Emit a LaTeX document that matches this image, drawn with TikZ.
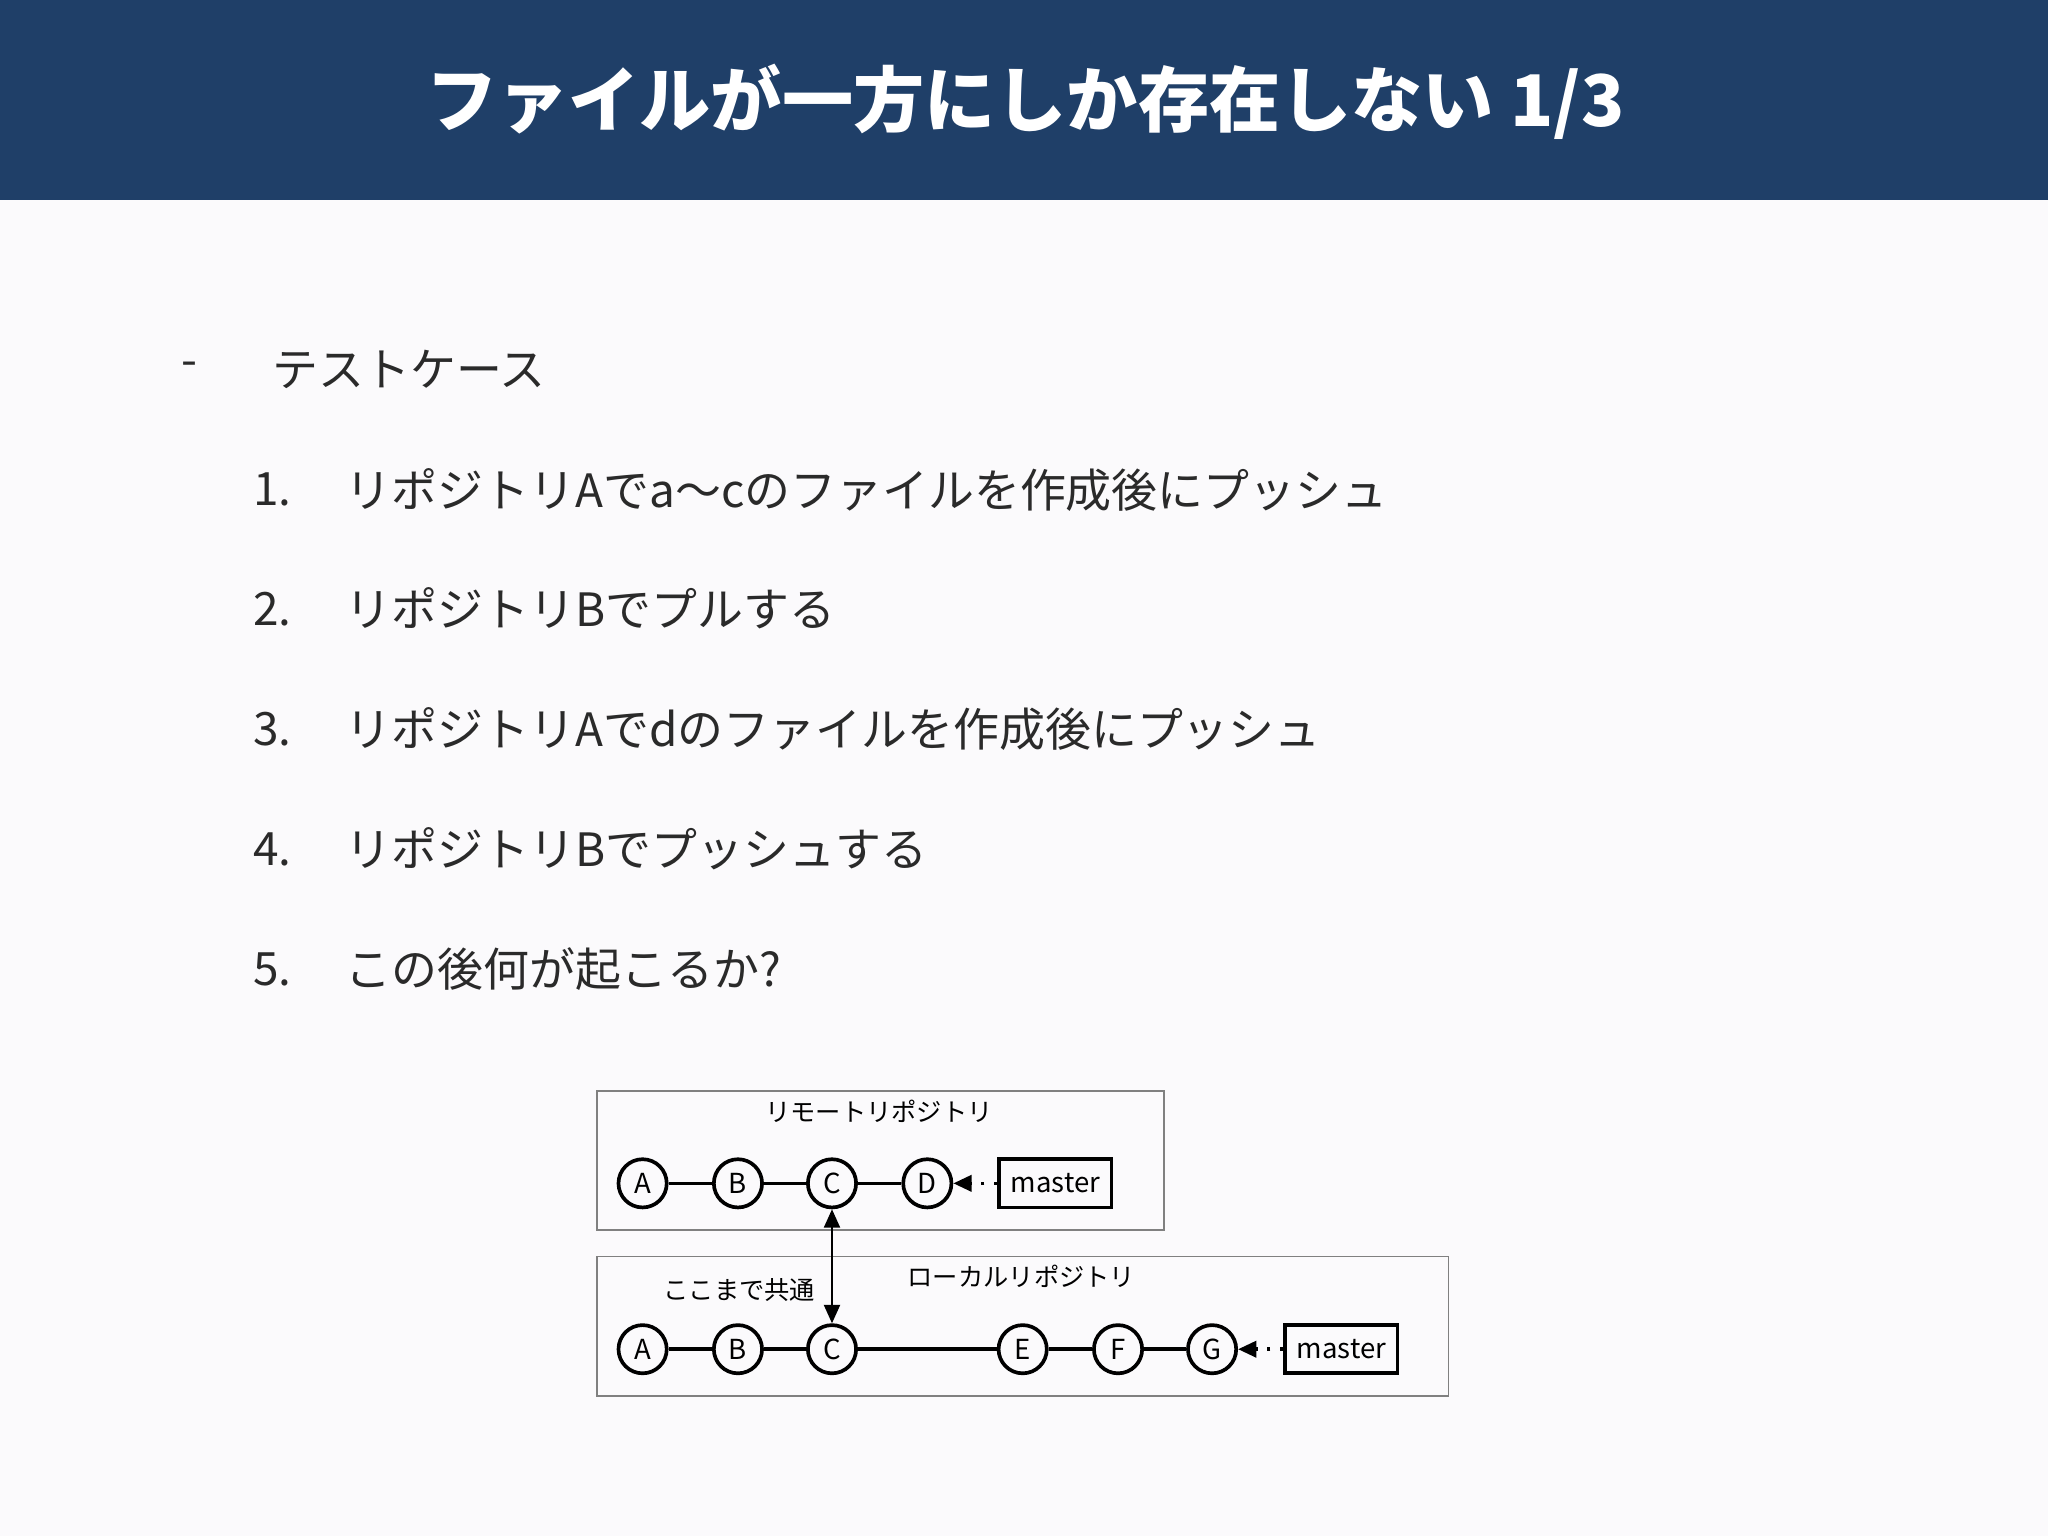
\documentclass[tikz,border=0pt]{standalone}
\usepackage{fontspec}
\setmainfont{Noto Sans CJK JP}
\usetikzlibrary{arrows.meta}
\definecolor{hdr}{HTML}{1F3F68}
\definecolor{bg}{HTML}{FBFAFC}
\definecolor{txt}{HTML}{2A2A2A}
\tikzset{
 commit/.style={circle,draw,thick,minimum size=10.5pt,inner sep=0pt,font=\fontsize{6}{6}\selectfont},
 mbox/.style={draw,thick,minimum width=24.5pt,minimum height=10.5pt,inner sep=0pt,font=\fontsize{6}{6}\selectfont},
 frm/.style={draw=gray,thin},
 item/.style={anchor=west,font=\fontsize{10}{12}\selectfont,text=txt,inner sep=0pt},
 lbl/.style={font=\fontsize{5.5}{6}\selectfont,inner sep=0pt},
 tip/.style={-{Triangle[length=4pt,width=3.5pt]}},
}
\begin{document}
\begin{tikzpicture}[x=0.01cm,y=-0.01cm]
\fill[bg] (0,0) rectangle (1568,1176);
\useasboundingbox (0,0) rectangle (1568,1176);
\fill[hdr] (0,0) rectangle (1568,153);
\node[text=white,font=\fontsize{15.5}{18}\selectfont\bfseries] (title) at (785,78) {ファイルが一方にしか存在しない 1/3};
\node[item] (dash) at (138,283) {-};
\node[item] (h) at (208,283) {テストケース};
\foreach \n/\y/\t in {1/375/リポジトリAでa〜cのファイルを作成後にプッシュ,2/466/リポジトリBでプルする,3/558/リポジトリAでdのファイルを作成後にプッシュ,4/650/リポジトリBでプッシュする,5/742/この後何が起こるか?}{
 \node[item] (n\n) at (193,\y) {\n.};
 \node[item] (t\n) at (264,\y) {\t};
}
% remote
\draw[frm] (457,835) rectangle (891,942);
\node[lbl] (rl) at (673,851) {リモートリポジトリ};
\node[commit] (rA) at (492,906) {A};
\node[commit] (rB) at (565,906) {B};
\node[commit] (rC) at (637,906) {C};
\node[commit] (rD) at (710,906) {D};
\node[mbox] (rm) at (808,906) {master};
\draw[thick] (rA)--(rB)--(rC)--(rD);
\draw[thick,dotted,tip] (rm)--(rD);
% local
\draw[frm] (457,962) rectangle (1109,1069);
\node[lbl] (ll) at (782,977) {ローカルリポジトリ};
\node[lbl] (common) at (566,988) {ここまで共通};
\node[commit] (lA) at (492,1033) {A};
\node[commit] (lB) at (565,1033) {B};
\node[commit] (lC) at (637,1033) {C};
\node[commit] (lE) at (783,1033) {E};
\node[commit] (lF) at (856,1033) {F};
\node[commit] (lG) at (928,1033) {G};
\node[mbox] (lm) at (1027,1033) {master};
\draw[thick] (lA)--(lB)--(lC)--(lE)--(lF)--(lG);
\draw[thick,dotted,tip] (lm)--(lG);
\draw[thin,{Triangle[length=4pt,width=3.5pt]}-{Triangle[length=4pt,width=3.5pt]}] (rC)--(lC);
\end{tikzpicture}
\end{document}
